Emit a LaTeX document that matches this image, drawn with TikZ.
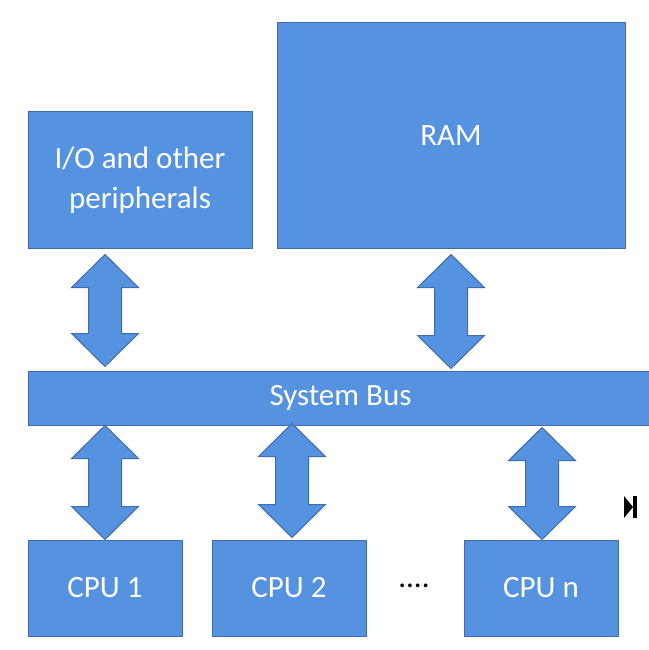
\documentclass[tikz,border=0pt]{standalone}
\usepackage{fontspec}
\setmainfont{Carlito}
\usepackage{tikz}
\usetikzlibrary{calc}

\definecolor{boxblue}{RGB}{85,146,224}
\definecolor{edgeblue}{RGB}{65,108,170}

\tikzset{
  unit/.style={draw=edgeblue, line width=1pt, fill=boxblue, text=white,
    inner sep=0pt, align=center, font=\fontsize{31}{40}\selectfont},
  busarrow/.style={draw=edgeblue, line width=1pt, fill=boxblue, line join=miter}
}

% block double arrow from #1 (top) to #2 (bottom)
\newcommand{\busline}[2]{%
  \draw[busarrow] let \p1=#1, \p2=#2 in
    (\x1,\y1) -- (\x1+33.5pt,\y1-33pt) -- (\x1+16.5pt,\y1-33pt)
    -- (\x1+16.5pt,\y2+33pt) -- (\x1+33.5pt,\y2+33pt) -- (\x1,\y2)
    -- (\x1-33.5pt,\y2+33pt) -- (\x1-16.5pt,\y2+33pt)
    -- (\x1-16.5pt,\y1-33pt) -- (\x1-33.5pt,\y1-33pt) -- cycle;}

\begin{document}
\begin{tikzpicture}[x=1pt, y=-1pt]
\useasboundingbox[fill=white] (0,0) rectangle (648,650);

\node[unit, minimum width=224pt, minimum height=136pt] (io) at (140,180) {I/O and other\\peripherals};
\node[unit, minimum width=348pt, minimum height=225pt] (ram) at (451,135.5) {RAM};
\node[unit, minimum width=624pt, minimum height=54pt, anchor=west] (bus) at (28,398) {System Bus};
\node[unit, minimum width=154pt, minimum height=96pt] (cpu1) at (105,588) {CPU 1};
\node[unit, minimum width=154pt, minimum height=96pt] (cpu2) at (289,588) {CPU 2};
\node[unit, minimum width=154pt, minimum height=96pt] (cpun) at (541,588) {CPU n};
\node[font=\fontsize{31}{40}\selectfont, inner sep=0pt] (dots) at (414,586) {....};

\busline{($(io.south -| cpu1.north)+(0,6)$)}{($(bus.north -| cpu1.north)+(0,-4)$)}
\busline{($(ram.south)+(0,6)$)}{($(bus.north -| ram.south)+(0,-2)$)}
\busline{(bus.south -| cpu1.north)}{(cpu1.north)}
\busline{($(bus.south -| cpu2.north)+(3,-2)$)}{($(cpu2.north)+(3,-2)$)}
\busline{($(bus.south -| cpun.north)+(1,2)$)}{($(cpun.north)+(1,0)$)}

% cursor mark
\fill[black] (624,496) -- (633,507) -- (624,518) -- cycle;
\fill[black] (633,496) rectangle (637,518);
\end{tikzpicture}
\end{document}
